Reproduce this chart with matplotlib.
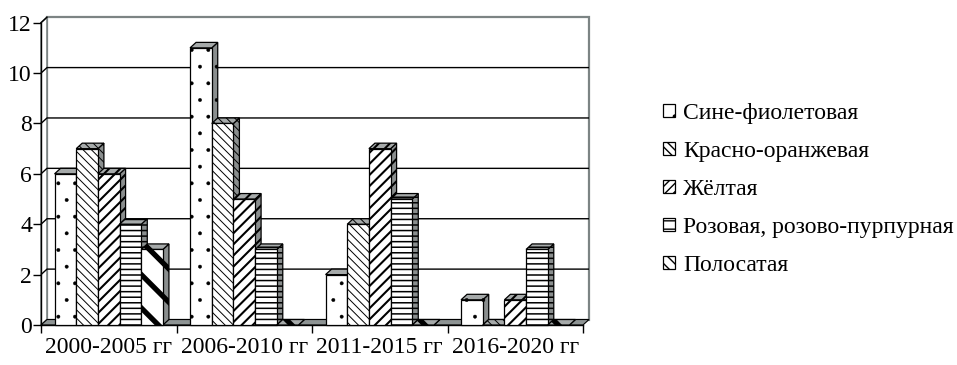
import matplotlib
matplotlib.use("Agg")
import matplotlib.pyplot as plt
from matplotlib.patches import Polygon, Patch

# Number of new varieties per period
categories = ["2000-2005 гг", "2006-2010 гг", "2011-2015 гг", "2016-2020 гг"]
series_names = ["Сине-фиолетовая", "Красно-оранжевая", "Жёлтая",
                "Розовая, розово-пурпурная", "Полосатая"]
blue_violet = [6, 11, 2, 1]
red_orange = [7, 8, 4, 0]
yellow = [6, 5, 7, 1]
pink = [4, 3, 5, 3]
striped = [3, 0, 0, 0]
y_ticks = [0, 2, 4, 6, 8, 10, 12]

series_values = [blue_violet, red_orange, yellow, pink, striped]
hatches = [".", "\\\\\\\\", "///", "---", "\\"]
hatch_widths = [0.3, 0.7, 1.5, 1.1, 3.8]
legend_hatches = [".", "\\\\\\\\", "////", "--", "\\\\\\"]
legend_hatch_widths = [0.3, 0.7, 1.4, 1.2, 3.6]

FONT = "Liberation Serif"
FS = 17

W, H = 957, 365
fig = plt.figure(figsize=(W / 100, H / 100), dpi=100)

# axes rectangle = front plane of the 3-D box (pixels)
left_px, right_px, bottom_px, top_px = 41, 583, 325, 22.7
ax = fig.add_axes([left_px / W, 1 - bottom_px / H,
                   (right_px - left_px) / W, (bottom_px - top_px) / H])
n_cat = len(categories)
y_max = y_ticks[-1]
ax.set_xlim(0, n_cat)
ax.set_ylim(0, y_max)

# depth of the 3-D effect in data units (about 6 px each way)
dx = 6 / (right_px - left_px) * n_cat
dy = 5.5 / (bottom_px - top_px) * y_max

wall_grey = "#7c8484"

# back wall
ax.add_patch(Polygon([(dx, dy), (n_cat + dx, dy), (n_cat + dx, y_max + dy), (dx, y_max + dy)],
                     closed=True, facecolor="white", edgecolor=wall_grey, lw=1.6,
                     clip_on=False, zorder=0.5))
# left side wall
ax.add_patch(Polygon([(0, 0), (dx, dy), (dx, y_max + dy), (0, y_max)],
                     closed=True, facecolor="white", edgecolor=wall_grey, lw=1.2,
                     clip_on=False, zorder=0.6))
# gridlines on back and side walls
for v in y_ticks[1:-1]:
    ax.plot([0, dx, n_cat + dx], [v, v + dy, v + dy], color="black", lw=1.0,
            clip_on=False, zorder=0.8, solid_capstyle="butt")
ax.plot([0, dx], [y_max, y_max + dy], color="black", lw=1.0, clip_on=False, zorder=0.8)

# floor
ax.add_patch(Polygon([(0, 0), (n_cat, 0), (n_cat + dx, dy), (dx, dy)],
                     closed=True, facecolor="#8e9494", edgecolor="black", lw=0.8,
                     clip_on=False, zorder=1))

# 3-D bars
n_ser = len(series_values)
group_pad = 0.1
bar_w = (1 - 2 * group_pad) / n_ser
z = 2
for ci in range(n_cat):
    for si in range(n_ser):
        h = series_values[si][ci]
        x0 = ci + group_pad + si * bar_w
        x1 = x0 + bar_w
        common = dict(edgecolor="black", lw=0.9, hatch=hatches[si], clip_on=False)
        faces = []
        # side face
        faces.append(Polygon([(x1, 0), (x1 + dx, dy), (x1 + dx, h + dy), (x1, h)],
                             closed=True, facecolor="#8a8e8e", zorder=z, **common))
        # top face
        faces.append(Polygon([(x0, h), (x1, h), (x1 + dx, h + dy), (x0 + dx, h + dy)],
                             closed=True, facecolor="#a6aaaa", zorder=z + 0.1, **common))
        # front face
        if h > 0:
            faces.append(Polygon([(x0, 0), (x1, 0), (x1, h), (x0, h)],
                                 closed=True, facecolor="white", zorder=z + 0.2, **common))
        for f in faces:
            if hasattr(f, "set_hatch_linewidth"):
                f.set_hatch_linewidth(hatch_widths[si])
            ax.add_patch(f)
        z += 1

# axes styling
for s in ["top", "right", "bottom"]:
    ax.spines[s].set_visible(False)
ax.spines["left"].set_color("black")
ax.spines["left"].set_linewidth(1.0)
ax.spines["left"].set_zorder(50)

ax.set_yticks(y_ticks)
ax.set_yticklabels([str(v) for v in y_ticks], fontfamily=FONT, fontsize=FS)
ax.tick_params(axis="y", direction="out", length=6, width=1.0, pad=0.5, colors="black")

ax.set_xticks(range(n_cat + 1))
ax.set_xticklabels([])
ax.tick_params(axis="x", which="major", direction="out", length=6, width=1.0)
ax.set_xticks([i + 0.5 for i in range(n_cat)], minor=True)
ax.set_xticklabels(categories, minor=True, fontfamily=FONT, fontsize=FS)
ax.tick_params(axis="x", which="minor", length=0, pad=8.5)
ax.plot([0, n_cat], [0, 0], color="black", lw=1.0, clip_on=False, zorder=1.1)

# legend
handles = [Patch(facecolor="white", edgecolor="black", hatch=legend_hatches[i], lw=0.9)
           for i in range(n_ser)]
for i, hnd in enumerate(handles):
    if hasattr(hnd, "set_hatch_linewidth"):
        hnd.set_hatch_linewidth(legend_hatch_widths[i])
leg = fig.legend(handles, series_names, loc="center left",
                 bbox_to_anchor=(663 / W, 1 - 189.5 / H), frameon=False,
                 prop={"family": FONT, "size": FS}, handlelength=0.5, handleheight=0.5,
                 handletextpad=0.35, labelspacing=0.72, borderpad=0, borderaxespad=0)

fig.savefig("out.png", dpi=100)
